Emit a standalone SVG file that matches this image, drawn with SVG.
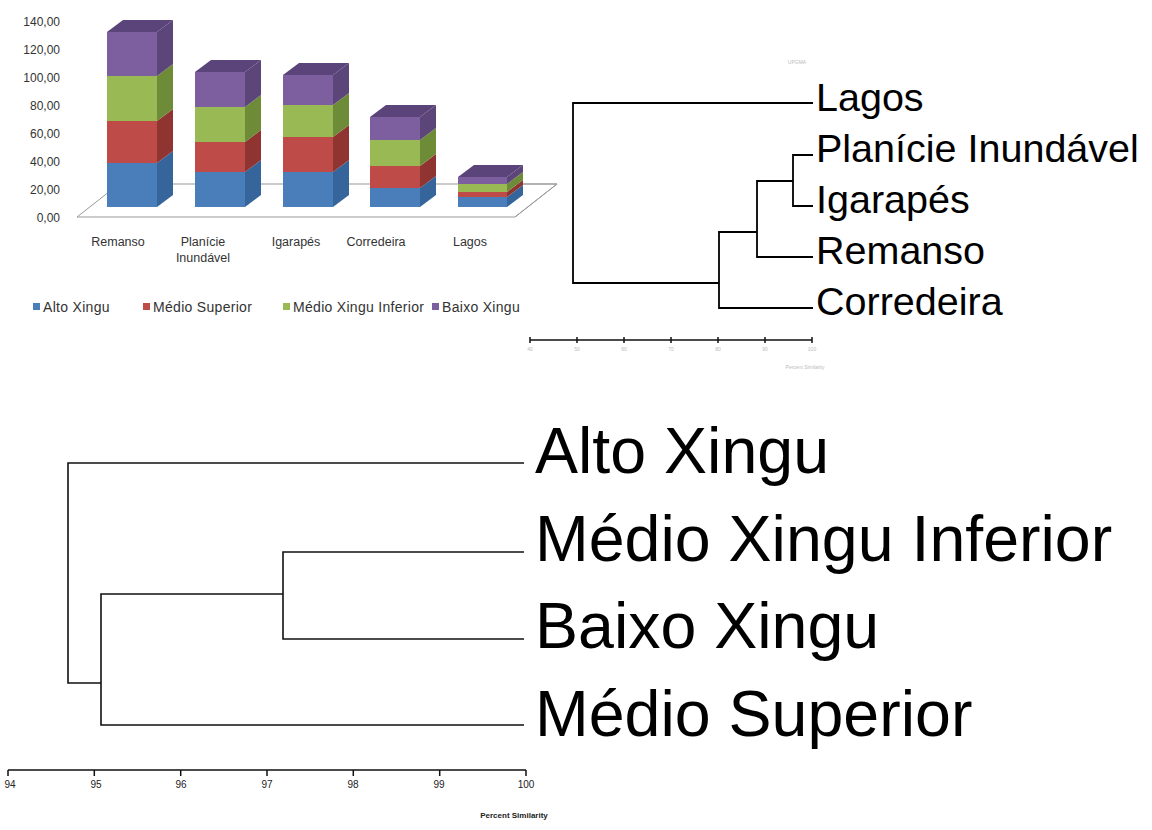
<svg xmlns="http://www.w3.org/2000/svg" width="1152" height="830" viewBox="0 0 1152 830">
<style>
.ax{font-family:"Liberation Sans",Arial,sans-serif;font-size:12px;fill:#333;text-anchor:end}
.cat{font-family:"Liberation Sans",Arial,sans-serif;font-size:12.5px;fill:#333;text-anchor:middle}
.leg{font-family:"Liberation Sans",Arial,sans-serif;font-size:14px;letter-spacing:0.3px;fill:#333}
.lbl1{font-family:"Liberation Sans",Arial,sans-serif;font-size:39.5px;fill:#000}
.lbl2{font-family:"Liberation Sans",Arial,sans-serif;font-size:64.5px;fill:#000}
.tick{font-family:"Liberation Sans",Arial,sans-serif;font-size:10px;fill:#222;text-anchor:middle}
.faint{font-family:"Liberation Sans",Arial,sans-serif;font-size:5px;fill:#bbb;text-anchor:middle}
.ln{fill:none;stroke:#000;stroke-width:1.8}
.ln2{fill:none;stroke:#111;stroke-width:1.6}
.bF{fill:#4A7EBB}.bS{fill:#35659B}
.rF{fill:#BE4B48}.rS{fill:#8F3431}
.gF{fill:#98B954}.gS{fill:#6E8B37}
.pF{fill:#7D5FA0}.pS{fill:#5C4579}.pT{fill:#5A4479}
</style>
<rect width="1152" height="830" fill="#fff"/>

<g id="bar-chart">
  <g id="y-axis-labels">
    <text class="ax" x="60" y="26">140,00</text>
    <text class="ax" x="60" y="54">120,00</text>
    <text class="ax" x="60" y="82">100,00</text>
    <text class="ax" x="60" y="110">80,00</text>
    <text class="ax" x="60" y="138">60,00</text>
    <text class="ax" x="60" y="166">40,00</text>
    <text class="ax" x="60" y="194">20,00</text>
    <text class="ax" x="60" y="222">0,00</text>
  </g>
  <polygon id="floor" points="77,217 515,217 557,184 119,184" fill="#fff" stroke="#999" stroke-width="1"/>

  <g id="bar-remanso">
    <rect class="bF" x="107" y="163" width="50" height="44"/><polygon class="bS" points="157,207 173,195 173,151 157,163"/>
    <rect class="rF" x="107" y="121" width="50" height="42"/><polygon class="rS" points="157,163 173,151 173,109 157,121"/>
    <rect class="gF" x="107" y="76" width="50" height="45"/><polygon class="gS" points="157,121 173,109 173,64 157,76"/>
    <rect class="pF" x="107" y="32" width="50" height="44"/><polygon class="pS" points="157,76 173,64 173,20 157,32"/>
    <polygon class="pT" points="107,32 123,20 173,20 157,32"/>
  </g>
  <g id="bar-planicie">
    <rect class="bF" x="195" y="172" width="50" height="35"/><polygon class="bS" points="245,207 261,195 261,160 245,172"/>
    <rect class="rF" x="195" y="142" width="50" height="30"/><polygon class="rS" points="245,172 261,160 261,130 245,142"/>
    <rect class="gF" x="195" y="107" width="50" height="35"/><polygon class="gS" points="245,142 261,130 261,95 245,107"/>
    <rect class="pF" x="195" y="72" width="50" height="35"/><polygon class="pS" points="245,107 261,95 261,60 245,72"/>
    <polygon class="pT" points="195,72 211,60 261,60 245,72"/>
  </g>
  <g id="bar-igarapes">
    <rect class="bF" x="283" y="172" width="50" height="35"/><polygon class="bS" points="333,207 349,195 349,160 333,172"/>
    <rect class="rF" x="283" y="137" width="50" height="35"/><polygon class="rS" points="333,172 349,160 349,125 333,137"/>
    <rect class="gF" x="283" y="105" width="50" height="32"/><polygon class="gS" points="333,137 349,125 349,93 333,105"/>
    <rect class="pF" x="283" y="75" width="50" height="30"/><polygon class="pS" points="333,105 349,93 349,63 333,75"/>
    <polygon class="pT" points="283,75 299,63 349,63 333,75"/>
  </g>
  <g id="bar-corredeira">
    <rect class="bF" x="370" y="188" width="50" height="19"/><polygon class="bS" points="420,207 436,195 436,176 420,188"/>
    <rect class="rF" x="370" y="166" width="50" height="22"/><polygon class="rS" points="420,188 436,176 436,154 420,166"/>
    <rect class="gF" x="370" y="140" width="50" height="26"/><polygon class="gS" points="420,166 436,154 436,128 420,140"/>
    <rect class="pF" x="370" y="117" width="50" height="23"/><polygon class="pS" points="420,140 436,128 436,105 420,117"/>
    <polygon class="pT" points="370,117 386,105 436,105 420,117"/>
  </g>
  <g id="bar-lagos">
    <rect class="bF" x="458" y="197" width="49" height="10"/><polygon class="bS" points="507,207 523,195 523,185 507,197"/>
    <rect class="rF" x="458" y="192" width="49" height="5"/><polygon class="rS" points="507,197 523,185 523,180 507,192"/>
    <rect class="gF" x="458" y="184" width="49" height="8"/><polygon class="gS" points="507,192 523,180 523,172 507,184"/>
    <rect class="pF" x="458" y="177" width="49" height="7"/><polygon class="pS" points="507,184 523,172 523,165 507,177"/>
    <polygon class="pT" points="458,177 474,165 523,165 507,177"/>
  </g>
  <line x1="515" y1="217" x2="557" y2="184" stroke="#999" stroke-width="1"/>
  <line x1="523" y1="184" x2="557" y2="184" stroke="#999" stroke-width="1"/>

  <g id="category-labels">
    <text class="cat" x="118" y="246">Remanso</text>
    <text class="cat" x="203" y="246">Planície</text>
    <text class="cat" x="203" y="262">Inundável</text>
    <text class="cat" x="296" y="246">Igarapés</text>
    <text class="cat" x="376" y="246">Corredeira</text>
    <text class="cat" x="470" y="246">Lagos</text>
  </g>
  <g id="legend">
    <rect class="bF" x="33" y="303" width="7" height="7"/><text class="leg" x="43" y="312">Alto Xingu</text>
    <rect class="rF" x="143" y="303" width="7" height="7"/><text class="leg" x="153" y="312">Médio Superior</text>
    <rect class="gF" x="283" y="303" width="7" height="7"/><text class="leg" x="293" y="312">Médio Xingu Inferior</text>
    <rect class="pF" x="432" y="303" width="7" height="7"/><text class="leg" x="442" y="312">Baixo Xingu</text>
  </g>
</g>

<g id="dendrogram-habitats">
  <text class="faint" x="797" y="64">UPGMA</text>
  <g id="connectors-habitats">
    <path class="ln" d="M813,103 H573 V283 H719"/>
    <path class="ln" d="M813,308 H719 V232 H757"/>
    <path class="ln" d="M813,257 H757 V181 H793"/>
    <path class="ln" d="M813,155 H793 V206 H813"/>
  </g>
  <g id="leaf-lagos"><text class="lbl1" x="816" y="111">Lagos</text></g>
  <g id="leaf-planicie"><text class="lbl1" x="816" y="162">Planície Inundável</text></g>
  <g id="leaf-igarapes"><text class="lbl1" x="816" y="213">Igarapés</text></g>
  <g id="leaf-remanso"><text class="lbl1" x="816" y="264">Remanso</text></g>
  <g id="leaf-corredeira"><text class="lbl1" x="816" y="315">Corredeira</text></g>
  <g id="axis-habitats">
    <path fill="none" stroke="#111" stroke-width="1.5" d="M530,340 H812 M530,337 V343 M577,337 V343 M624,337 V343 M671,337 V343 M718,337 V343 M765,337 V343 M812,337 V343"/>
    <text class="faint" x="530" y="351">40</text>
    <text class="faint" x="577" y="351">50</text>
    <text class="faint" x="624" y="351">60</text>
    <text class="faint" x="671" y="351">70</text>
    <text class="faint" x="718" y="351">80</text>
    <text class="faint" x="765" y="351">90</text>
    <text class="faint" x="812" y="351">100</text>
    <text class="faint" x="805" y="369">Percent Similarity</text>
  </g>
</g>

<g id="dendrogram-regions">
  <g id="connectors-regions">
    <path class="ln2" d="M524,463 H68 V683 H101"/>
    <path class="ln2" d="M524,725 H101 V594 H283"/>
    <path class="ln2" d="M524,552 H283 V639 H524"/>
  </g>
  <g id="leaf-alto"><text class="lbl2" x="535" y="473">Alto Xingu</text></g>
  <g id="leaf-medio-inferior"><text class="lbl2" x="535" y="561">Médio Xingu Inferior</text></g>
  <g id="leaf-baixo"><text class="lbl2" x="535" y="648">Baixo Xingu</text></g>
  <g id="leaf-medio-superior"><text class="lbl2" x="535" y="736">Médio Superior</text></g>
  <g id="axis-regions">
    <path fill="none" stroke="#111" stroke-width="1.5" d="M8,770 H526 M8,770 V776 M94.3,770 V776 M180.7,770 V776 M267,770 V776 M353.3,770 V776 M439.7,770 V776 M526,770 V776"/>
    <text class="tick" x="10" y="788">94</text>
    <text class="tick" x="96" y="788">95</text>
    <text class="tick" x="181" y="788">96</text>
    <text class="tick" x="267" y="788">97</text>
    <text class="tick" x="353" y="788">98</text>
    <text class="tick" x="439" y="788">99</text>
    <text class="tick" x="526" y="788">100</text>
    <text x="514" y="818" font-family="'Liberation Sans',Arial,sans-serif" font-size="8px" font-weight="bold" fill="#222" text-anchor="middle">Percent Similarity</text>
  </g>
</g>
</svg>
